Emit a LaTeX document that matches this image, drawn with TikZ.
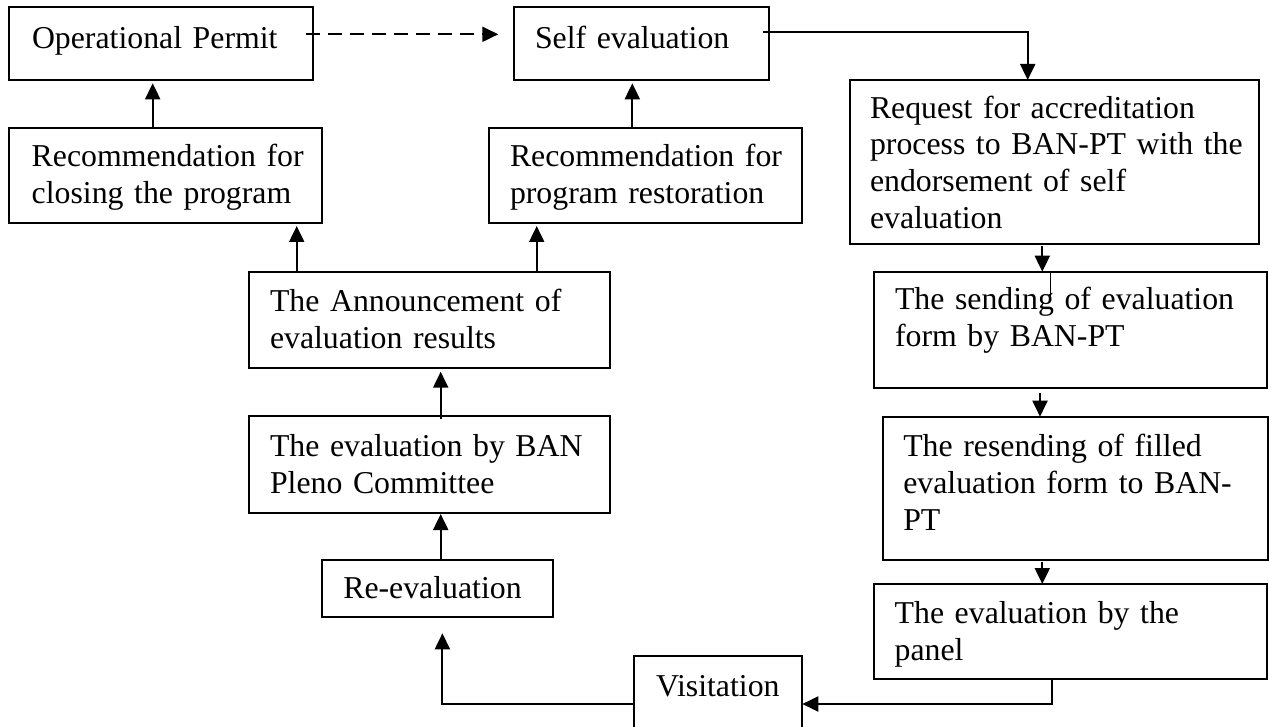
\documentclass[tikz,border=0pt]{standalone}
\usepackage{fontspec}
\setmainfont{Liberation Serif}
\usetikzlibrary{arrows.meta,calc}
\begin{document}
\begin{tikzpicture}[x=1pt,y=-1pt,
  box/.style={draw, line width=2pt, inner sep=0pt, outer sep=0pt, anchor=north west},
  txt/.style={anchor=base west, inner sep=0pt, outer sep=0pt, text width=420pt, align=left,
    font=\fontsize{31.8}{36.7}\selectfont},
  conn/.style={line width=2pt, -{Triangle[length=16pt,width=15pt]}},
  plain/.style={line width=2pt}]
\useasboundingbox (0,0) rectangle (1269,727);
\begin{scope}
\clip (0,0) rectangle (1269,727);
% boxes
\node[box, minimum width=303.4pt, minimum height=72.7pt] (OP) at (9.3,7.3) {};
\node[box, minimum width=254.5pt, minimum height=72.7pt] (SE) at (514,7.3) {};
\node[box, minimum width=312.7pt, minimum height=95.6pt] (RC) at (9.3,127.7) {};
\node[box, minimum width=312.7pt, minimum height=95.6pt] (RR) at (489.3,127.7) {};
\node[box, minimum width=409pt, minimum height=164pt] (RQ) at (850,80) {};
\node[box, minimum width=360.7pt, minimum height=96.6pt] (AN) at (249.3,271.7) {};
\node[box, minimum width=393.8pt, minimum height=116.6pt] (SD) at (873.5,271.7) {};
\node[box, minimum width=360.7pt, minimum height=96.7pt] (BP) at (249.3,416) {};
\node[box, minimum width=385pt, minimum height=143.3pt] (RS) at (883.3,416.7) {};
\node[box, minimum width=231pt, minimum height=57.3pt] (RE) at (321.7,560) {};
\node[box, minimum width=393pt, minimum height=95.3pt] (PN) at (874,584) {};
\node[box, minimum width=168.3pt, minimum height=96.6pt] (VS) at (634,655.7) {};
\end{scope}
% texts
\node[txt] (tOP) at (32,48.3) {Operational Permit};
\node[txt] (tSE) at (535,48.3) {Self evaluation};
\node[txt] (tRC) at (31.7,166.7) {Recommendation for\\closing the program};
\node[txt] (tRR) at (510,166.7) {Recommendation for\\program restoration};
\node[txt] (tRQ) at (870,118.3) {Request for accreditation\\process to BAN-PT with the\\endorsement of self\\evaluation};
\node[txt] (tAN) at (270,311.7) {The Announcement of\\evaluation results};
\node[txt] (tSD) at (895,310) {The sending of evaluation\\form by BAN-PT};
\node[txt] (tBP) at (270,456.7) {The evaluation by BAN\\Pleno Committee};
\node[txt] (tRS) at (903.3,456.7) {The resending of filled\\evaluation form to BAN-\\PT};
\node[txt] (tRE) at (343.3,598.3) {Re-evaluation};
\node[txt] (tPN) at (894.7,623.3) {The evaluation by the\\panel};
\node[txt] (tVS) at (656,696) {Visitation};
% connectors
\draw[conn, dash pattern=on 14pt off 8pt] ($(OP.north east)+(-6.7,27)$) -- ($(SE.north west)+(-15.7,27)$);
\draw[conn] ($(SE.north east)+(-5.2,25)$) -| ($(RQ.north west)+(177.7,0)$);
\draw[conn] ($(RQ.south west)+(192.3,2.4)$) -- ($(SD.north west)+(168.8,0)$);
\draw[line width=1.5pt] ($(SD.north west)+(177,0)$) -- ++(0,26.6);
\draw[conn] ($(SD.south west)+(166.5,5)$) -- ($(RS.north west)+(156.7,0)$);
\draw[conn] ($(RS.south west)+(159,1.7)$) -- ($(PN.north west)+(168.3,0)$);
\draw[conn] ($(PN.south west)+(177.8,0)$) |- (VS.east);
\draw[conn] (VS.west) -| ($(RE.south west)+(120.7,16)$);
\draw[conn] ($(RE.north west)+(119,0)$) -- ($(BP.south west)+(191.4,1.3)$);
\draw[conn] ($(BP.north west)+(191.4,3.3)$) -- ($(AN.south west)+(191.4,3.4)$);
\draw[conn] ($(AN.north west)+(47.4,0)$) -- ($(RC.south west)+(287.4,2.7)$);
\draw[conn] ($(AN.north west)+(287.4,0)$) -- ($(RR.south west)+(47.4,2.7)$);
\draw[conn] ($(RC.north west)+(143.4,0)$) -- ($(OP.south west)+(143.4,3.3)$);
\draw[conn] ($(RR.north west)+(143,0)$) -- ($(SE.south west)+(118.3,3.3)$);
\end{tikzpicture}
\end{document}
